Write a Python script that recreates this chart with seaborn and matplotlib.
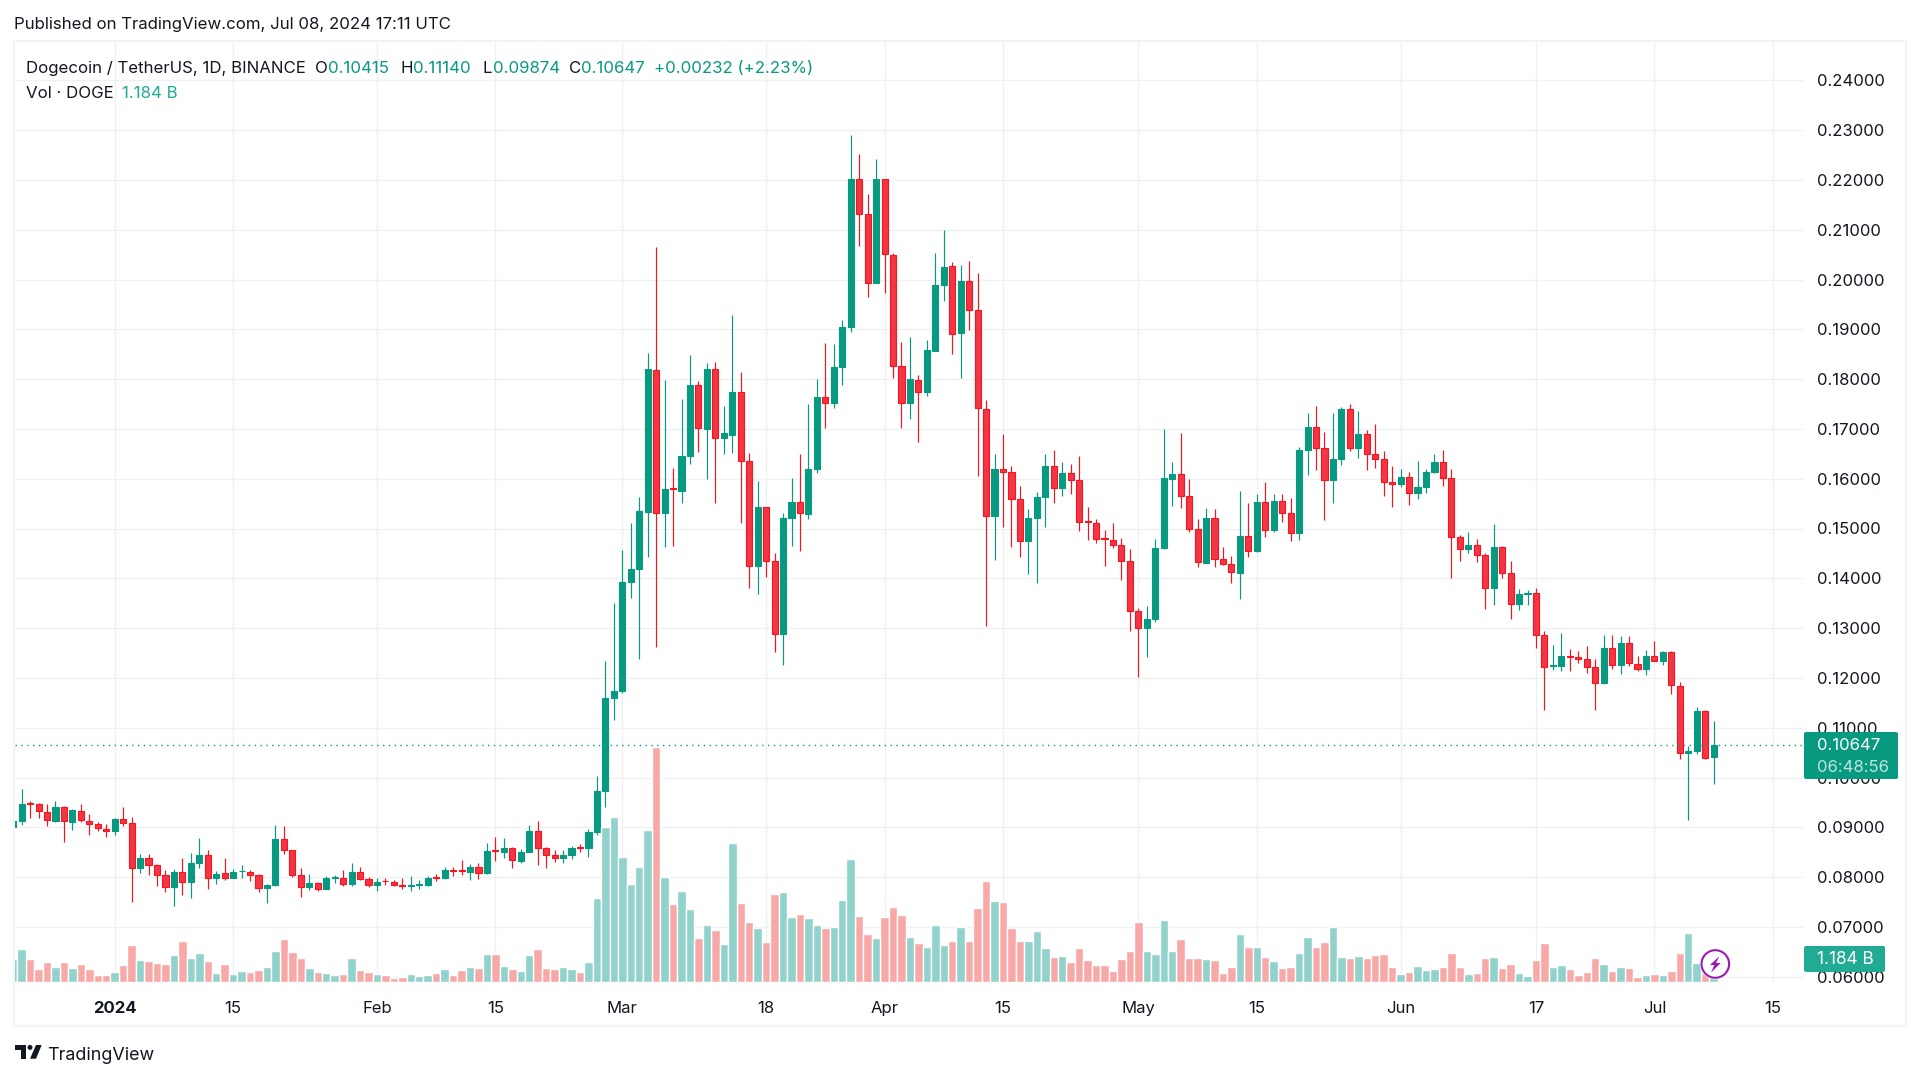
import numpy as np
import pandas as pd
import matplotlib.pyplot as plt
import seaborn as sns
from matplotlib.patches import Rectangle, Circle, Polygon, FancyBboxPatch

# daily candles DOGE/USDT, 20 Dec 2023 -> 8 Jul 2024
opens = [
    .09009, .09135, .09488, .09468, .09315, .09135, .09401, .09115, .09335, .09135, .09062, .08975,
    .08929, .09175, .09082, .08177, .08377, .08250, .08037, .07804, .08111, .07911, .08283, .08437, .07991, .08077, .07991, .08117, .08111, .08044, .07791, .07838, .08756, .08536, .08037, .07811, .07878, .07771, .07984, .07984, .07871, .08111, .07958,
    .07851, .07931, .07911, .07851, .07831, .07838, .07838, .08004, .07984, .08144, .08144, .08104, .08204, .08084, .08543, .08510, .08576, .08323, .08503, .08916, .08590, .08443, .08390, .08443, .08603, .08590, .08896, .09727, .11590,
    .11731, .13926, .14191, .15340, .18190, .15318, .15807, .15756, .16460, .17889, .17006, .18212, .16812, .16883, .17731, .16359, .14256, .15433, .14349, .12878, .15218, .15541, .15297, .16194, .17644, .17530, .18240, .19044, .22009, .21313, .19920,
    .22009, .20502, .18255, .17530, .17989, .17738, .18571, .19884, .20272, .18922, .19970, .19389, .17400, .15259, .16202, .16129, .15600, .14750, .15212, .15633, .16256, .15821, .16109, .15975, .15152, .15118, .14810, .14777, .14670, .14348,
    .13345, .13010, .13184, .14603, .16002, .16095, .15647, .14998, .14315, .15212, .14395, .14295, .14114, .14857, .14543, .15540, .14964, .15553, .15312, .14904, .16577, .17032, .16624, .15975, .16390, .17400, .16624, .16898, .16504, .16390, .15940,
    .15900, .16027, .15712, .15833, .16128, .16329, .16014, .14827, .14592, .14666, .14465, .13801, .14626, .14109, .13486, .13680, .13700, .12868, .12245, .12245, .12446, .12412, .12372, .12211, .11889, .12600, .12258, .12694, .12285, .12184,
    .12446, .12339, .12526, .11842, .10494, .10541, .11333, .10415,
]
closes = [
    .09135, .09468, .09468, .09321, .09148, .09401, .09122, .09341, .09142, .09069, .08982, .08929,
    .09175, .09082, .08190, .08377, .08250, .08037, .07804, .08111, .07911, .08283, .08443, .07991, .08071, .07991, .08097, .08130, .08037, .07791, .07844, .08763, .08536, .08037, .07811, .07884, .07771, .07977, .08004, .07871, .08111, .07958, .07851,
    .07911, .07918, .07851, .07831, .07844, .07858, .07991, .07991, .08144, .08130, .08130, .08204, .08091, .08530, .08530, .08576, .08350, .08503, .08916, .08590, .08443, .08390, .08443, .08590, .08590, .08896, .09727, .11590, .11731,
    .13926, .14191, .15354, .18197, .15318, .15792, .15792, .16460, .17889, .17013, .18212, .16812, .16912, .17731, .16359, .14256, .15433, .14349, .12878, .15218, .15541, .15304, .16194, .17644, .17530, .18233, .19044, .22009, .21313, .19920, .22009,
    .20509, .18255, .17530, .18011, .17738, .18578, .19884, .20258, .18908, .19970, .19389, .17415, .15259, .16202, .16129, .15600, .14750, .15212, .15627, .16256, .15821, .16109, .15975, .15138, .15138, .14797, .14797, .14676, .14348, .13345,
    .13010, .13177, .14603, .16008, .16095, .15647, .14998, .14335, .15212, .14395, .14295, .14127, .14857, .14556, .15540, .14971, .15553, .15312, .14904, .16577, .17032, .16624, .15975, .16390, .17400, .16624, .16905, .16504, .16390, .15940, .15900,
    .16027, .15712, .15826, .16128, .16329, .16021, .14827, .14592, .14666, .14471, .13807, .14626, .14109, .13486, .13680, .13707, .12868, .12218, .12265, .12446, .12419, .12372, .12218, .11889, .12607, .12258, .12694, .12298, .12184, .12433,
    .12339, .12526, .11849, .10494, .10541, .11333, .10400, .10647,
]
highs = [
    .09150, .09774, .09534, .09490, .09468, .09521, .09421, .09361, .09468, .09268, .09108, .09069,
    .09182, .09408, .09202, .08457, .08470, .08257, .08137, .08157, .08377, .08476, .08776, .08536, .08117, .08377, .08157, .08244, .08144, .08071, .07871, .09042, .09022, .08550, .08177, .08057, .07911, .08017, .08051, .08137, .08283, .08204, .08004,
    .07977, .07977, .07938, .07984, .08024, .07944, .08017, .08071, .08210, .08204, .08350, .08270, .08277, .08689, .08802, .08776, .08603, .08556, .09055, .09135, .08610, .08536, .08536, .08623, .08669, .08975, .10040, .12333, .13498,
    .14568, .15117, .15627, .18527, .20645, .17975, .16223, .17609, .18492, .17967, .18326, .18348, .17451, .19296, .18147, .16517, .15950, .15433, .14515, .15318, .16008, .16503, .17501, .18003, .18728, .18707, .19181, .22892, .22512, .21708, .22426,
    .22009, .20523, .18750, .18851, .18090, .18786, .20523, .21004, .20344, .20286, .20365, .20128, .17581, .16497, .16905, .16249, .15861, .15386, .15727, .16497, .16570, .16343, .16296, .16450, .15439, .15185, .14971, .15105, .14810, .14596,
    .13405, .13445, .14797, .16999, .16343, .16912, .15988, .15198, .15413, .15386, .14629, .14442, .15761, .15513, .15694, .15935, .15694, .15694, .15607, .16631, .17320, .17461, .16932, .17320, .17434, .17494, .17354, .16979, .17094, .16557, .16255,
    .16188, .16128, .16349, .16188, .16490, .16577, .16202, .14867, .14921, .14793, .14512, .15088, .14653, .14344, .13787, .13774, .13814, .12936, .12667, .12902, .12574, .12547, .12634, .12386, .12855, .12855, .12835, .12835, .12433, .12560,
    .12748, .12540, .12540, .11909, .10642, .11413, .11346, .11140,
]
lows = [
    .08990, .09055, .09188, .09188, .09022, .09102, .08703, .08942, .09102, .08836, .08916, .08802,
    .08836, .09022, .07492, .08091, .08044, .07824, .07691, .07419, .07632, .07572, .08190, .07771, .07864, .07951, .07991, .07991, .07924, .07691, .07479, .07818, .08470, .08011, .07605, .07751, .07711, .07758, .07891, .07824, .07818, .07938, .07804,
    .07725, .07844, .07831, .07771, .07725, .07771, .07818, .07924, .07964, .08017, .08051, .07944, .07958, .08057, .08323, .08383, .08184, .08283, .08496, .08250, .08184, .08297, .08283, .08370, .08510, .08403, .08836, .09400, .11154,
    .11700, .13595, .12375, .14436, .12612, .14622, .14651, .15505, .16302, .16539, .16000, .15505, .16503, .16517, .15117, .13811, .13682, .14026, .12519, .12267, .14658, .14543, .15189, .16122, .17013, .17415, .17874, .18937, .20667, .19640, .19920,
    .19719, .18025, .17013, .17199, .16740, .17652, .18563, .19568, .18513, .18025, .18980, .16058, .13043, .14375, .15038, .14636, .14435, .14094, .13913, .15024, .15520, .15660, .15694, .14951, .14763, .14703, .14255, .14609, .13974, .12936,
    .12026, .12427, .13123, .14596, .15453, .15413, .14937, .14221, .14315, .14235, .14268, .13913, .13585, .14435, .14536, .14837, .14937, .15131, .14750, .14770, .16075, .16182, .15178, .15506, .16276, .16557, .16416, .16176, .16222, .15659, .15437,
    .15840, .15478, .15585, .15719, .16121, .15846, .14015, .14357, .14498, .14337, .13385, .13465, .14015, .13190, .13358, .13472, .12600, .11346, .12151, .12137, .12137, .12292, .12090, .11360, .11883, .12178, .12070, .12231, .12137, .12050,
    .12332, .12251, .11681, .10380, .09139, .10474, .10367, .09874,
]
# volume in billions of DOGE
volumes = [
    1.20, 1.68, 1.20, .65, 1.05, .77, 1.01, .70, .91, .65, .34, .38,
    .50, .86, 1.89, 1.13, 1.10, .98, .91, 1.37, 2.13, 1.22, 1.49, 1.10, .45, .91, .41, .58, .50, .62, .77, 1.62, 2.20, 1.53, 1.25, .70, .50, .46, .34, .41, 1.22, .62, .50,
    .41, .34, .19, .26, .41, .31, .38, .45, .65, .38, .62, .77, .74, 1.46, 1.43, .81, .65, .55, 1.37, 1.68, .74, .65, .77, .65, .50, 1.05, 4.33, 7.97, 8.49,
    6.46, 5.03, 5.91, 7.82, 12.09, 5.43, 4.00, 4.67, 3.75, 2.25, 2.92, 2.68, 1.94, 7.15, 4.07, 3.08, 2.77, 2.04, 4.55, 4.62, 3.37, 3.52, 3.32, 2.92, 2.77, 2.85, 4.24, 6.34, 3.40, 2.46, 2.25,
    3.37, 3.85, 3.44, 2.30, 2.01, 1.82, 2.92, 1.89, 2.13, 2.82, 2.13, 3.80, 5.19, 4.16, 4.11, 2.77, 2.10, 2.13, 2.61, 1.77, 1.29, 1.32, 1.05, 1.77, 1.13, .89, .89, .57, 1.20, 1.62,
    3.08, 1.62, 1.44, 3.20, 1.62, 2.20, 1.25, 1.25, 1.17, 1.15, .45, .79, 2.46, 1.82, 1.82, 1.31, 1.07, .70, .76, 1.49, 2.34, 1.79, 2.06, 2.85, 1.27, 1.24, 1.34, 1.24, 1.39, 1.43, .79,
    .40, .52, .82, .62, .67, .79, 1.48, .76, .43, .46, 1.24, 1.31, .70, .91, .46, .31, 1.12, 2.01, .76, .88, .67, .36, .52, 1.24, .91, .58, .76, .70, .27, .34,
    .43, .34, .58, 1.49, 2.54, .98, .45, 1.184,
]

price_ticks = [.06, .07, .08, .09, .10, .11, .12, .13, .14, .15, .16, .17, .18, .19, .20, .21, .22, .23, .24]
date_ticks = ['2024-01-01', '2024-01-15', '2024-02-01', '2024-02-15', '2024-03-01', '2024-03-18',
              '2024-04-01', '2024-04-15', '2024-05-01', '2024-05-15', '2024-06-01', '2024-06-17',
              '2024-07-01', '2024-07-15']
date_labels = ['2024', '15', 'Feb', '15', 'Mar', '18', 'Apr', '15', 'May', '15', 'Jun', '17', 'Jul', '15']

GREEN = '#089981'
RED = '#F23645'
RED_EDGE = '#F7141F'
TXT = '#131722'

sns.set_theme(style='white')
plt.rcParams['font.family'] = ['Inter', 'DejaVu Sans']

dates = pd.date_range('2023-12-20', '2024-07-08')
day0 = pd.Timestamp('2024-01-01')
df = pd.DataFrame({'date': dates, 'open': opens, 'high': highs, 'low': lows, 'close': closes, 'volume': volumes})
df['day'] = (df['date'] - day0).dt.days
df['up'] = df['close'] >= df['open']

W, H = 1920, 1080
fig = plt.figure(figsize=(W / 100, H / 100), dpi=100, facecolor='white')
L, R, T, B = 15, 1803, 41, 982
rect = [L / W, 1 - B / H, (R - L) / W, (B - T) / H]

ax = fig.add_axes(rect, zorder=2)
ax_vol = fig.add_axes(rect, zorder=3)
ax_vol.patch.set_visible(False)

xlim = ((L - 114.7) / 8.46, (R - 114.7) / 8.46)
ylim = (0.06 - (B - 976.7) / 4980, 0.06 + (976.7 - T) / 4980)

# volume first, on its own scale
sns.barplot(data=df, x='day', y='volume', hue='up', palette={True: '#92D2CC', False: '#F7A9A7'},
            native_scale=True, dodge=False, width=1.0, saturation=1, legend=False, ax=ax_vol)
ax_vol.set_xlim(xlim)
ax_vol.set_ylim(0, (B - T) / 19.4)
ax_vol.axis('off')

# candles
for is_up, col, edge in [(True, GREEN, GREEN), (False, RED, RED_EDGE)]:
    d = df[df['up'] == is_up]
    ax.vlines(d['day'], d['low'], d['high'], color=edge, lw=0.85, zorder=3)
    ax.bar(d['day'], (d['close'] - d['open']).abs(), bottom=d[['open', 'close']].min(axis=1),
           width=0.72, color=col, edgecolor=edge, linewidth=0.8, zorder=4)

ax.axhline(closes[-1], color=GREEN, lw=1, ls=(0, (1, 3.2)), zorder=5)

ax.set_xlim(xlim)
ax.set_ylim(ylim)
ax.set_xticks([(pd.Timestamp(t) - day0).days for t in date_ticks])
ax.set_xticklabels(date_labels, fontsize=12, color=TXT)
ax.get_xticklabels()[0].set_fontweight('bold')
ax.yaxis.tick_right()
ax.set_yticks(price_ticks)
ax.set_yticklabels(['%.5f' % p for p in price_ticks], fontsize=12, color=TXT)
ax.tick_params(axis='x', length=0, pad=13.5)
ax.tick_params(axis='y', length=0, pad=10)
ax.grid(True, color='#EFF0F3', lw=1)
ax.set_axisbelow(True)
for s in ax.spines.values():
    s.set_visible(False)

# everything around the plot, in picture pixels
ov = fig.add_axes([0, 0, 1, 1], zorder=5)
ov.set_xlim(0, W)
ov.set_ylim(H, 0)
ov.axis('off')
ov.patch.set_visible(False)

ov.add_patch(Rectangle((14, 41), 1892, 985, fill=False, edgecolor='#F0F3FA', lw=1.5))

ov.text(14, 25, 'Published on TradingView.com, Jul 08, 2024 17:11 UTC', fontsize=12.1, color=TXT, va='center')
ov.text(25.7, 68.5, 'Dogecoin / TetherUS, 1D, BINANCE', fontsize=12.1, color=TXT, va='center')
for x, s in [(315, 'O'), (400, 'H'), (482.5, 'L'), (568.5, 'C')]:
    ov.text(x, 68.5, s, fontsize=12.1, color=TXT, va='center')
for x, s in [(328.3, '0.10415'), (413.5, '0.11140'), (492.5, '0.09874'), (581, '0.10647'), (654.5, '+0.00232 (+2.23%)')]:
    ov.text(x, 68.5, s, fontsize=12.1, color=GREEN, va='center')
ov.text(25.7, 94, 'Vol · DOGE', fontsize=12.1, color=TXT, va='center')
ov.text(122.5, 94, '1.184 B', fontsize=12.1, color='#22AB94', va='center')

# last price and volume labels
ov.add_patch(FancyBboxPatch((1804, 732), 94, 47, boxstyle='round,pad=0,rounding_size=2', fc=GREEN, ec='none'))
ov.text(1817, 746, '0.10647', fontsize=12, color='white', va='center')
ov.text(1817, 767.5, '06:48:56', fontsize=12, color='#BFE5DF', va='center')
ov.add_patch(FancyBboxPatch((1804, 946), 81, 26, boxstyle='round,pad=0,rounding_size=2', fc='#22AB94', ec='none'))
ov.text(1817, 959, '1.184 B', fontsize=12.4, color='white', va='center')

# lightning badge
ov.add_patch(Circle((1715.3, 964), 15.5, fc='white', ec='none'))
ov.add_patch(Circle((1715.3, 964), 13.8, fc='white', ec='#9C1AB1', lw=1.5))
bolt = [(118, 76), (90, 102), (103, 102), (93, 125), (122, 96), (108, 96)]
ov.add_patch(Polygon([(1680 + x / 3, 931 + y / 3) for x, y in bolt], fc='#9C1AB1', ec='none'))

# TradingView logo
ov.add_patch(Polygon([(14.7, 1045), (26, 1045), (26, 1058.7), (20.7, 1058.7), (20.7, 1050), (14.7, 1050)], fc=TXT, ec='none'))
ov.add_patch(Circle((30, 1047.4), 2.5, fc=TXT, ec='none'))
ov.add_patch(Polygon([(36, 1045), (41.7, 1045), (36, 1058.7), (30, 1058.7)], fc=TXT, ec='none'))
ov.text(47.5, 1055.5, 'TradingView', fontsize=12.9, color=TXT, va='center')

fig.savefig('out.png', dpi=100)
